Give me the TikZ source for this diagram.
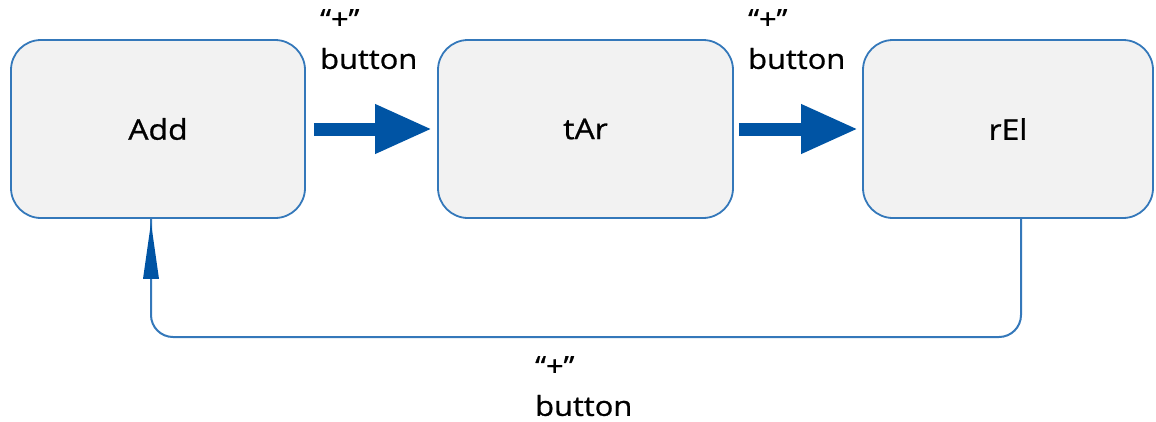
\documentclass[tikz,border=0pt]{standalone}
\usepackage{fontspec}
\setmainfont[FakeStretch=1.12,FakeBold=0.9]{Open Sans}
\usetikzlibrary{arrows.meta,calc}
\definecolor{boxline}{RGB}{52,120,186}
\definecolor{boxfill}{RGB}{242,242,242}
\definecolor{arrblue}{RGB}{0,84,164}
\tikzset{
  statebox/.style={draw=boxline, fill=boxfill, line width=1.8pt, rounded corners=30pt,
    minimum height=178pt, inner sep=0pt, font=\fontsize{28.5}{30}\selectfont},
  bigarrow/.style={draw=arrblue, line width=13pt, -{Triangle[length=57pt,width=46pt]}},
  backline/.style={draw=boxline, line width=2pt, rounded corners=22pt},
  lbl/.style={align=left, inner sep=0pt, font=\fontsize{27.5}{40}\selectfont}
}
\begin{document}
\begin{tikzpicture}[x=1pt,y=-1pt]
\useasboundingbox (0,0) rectangle (1156,421);
\node[statebox, minimum width=294pt] (add) at (158,129) {Add};
\node[statebox, minimum width=295pt] (tar) at (585.5,129) {tAr};
\node[statebox, minimum width=290pt] (rel) at (1008,129) {rEl};
\draw[bigarrow, shorten <=8pt, shorten >=5pt] (add.east) -- (tar.west);
\draw[bigarrow, shorten <=5pt, shorten >=4pt] (tar.east) -- (rel.west);
\coordinate (c1) at (1021,337);
\coordinate (c2) at (151,337);
\draw[backline] ([xshift=13pt]rel.south) -- (c1) -- (c2) -- ([xshift=-7pt]add.south);
\fill[arrblue] ($([xshift=-7pt]add.south)+(0,4)$) -- ++(8,56) -- ++(-16,0) -- cycle;
\node[lbl, anchor=north west] (l1) at (320,9) {“+”\\button};
\node[lbl, anchor=north west] (l2) at (748,9) {“+”\\button};
\node[lbl, anchor=north west] (l3) at (535,356) {“+”\\button};
\end{tikzpicture}
\end{document}
